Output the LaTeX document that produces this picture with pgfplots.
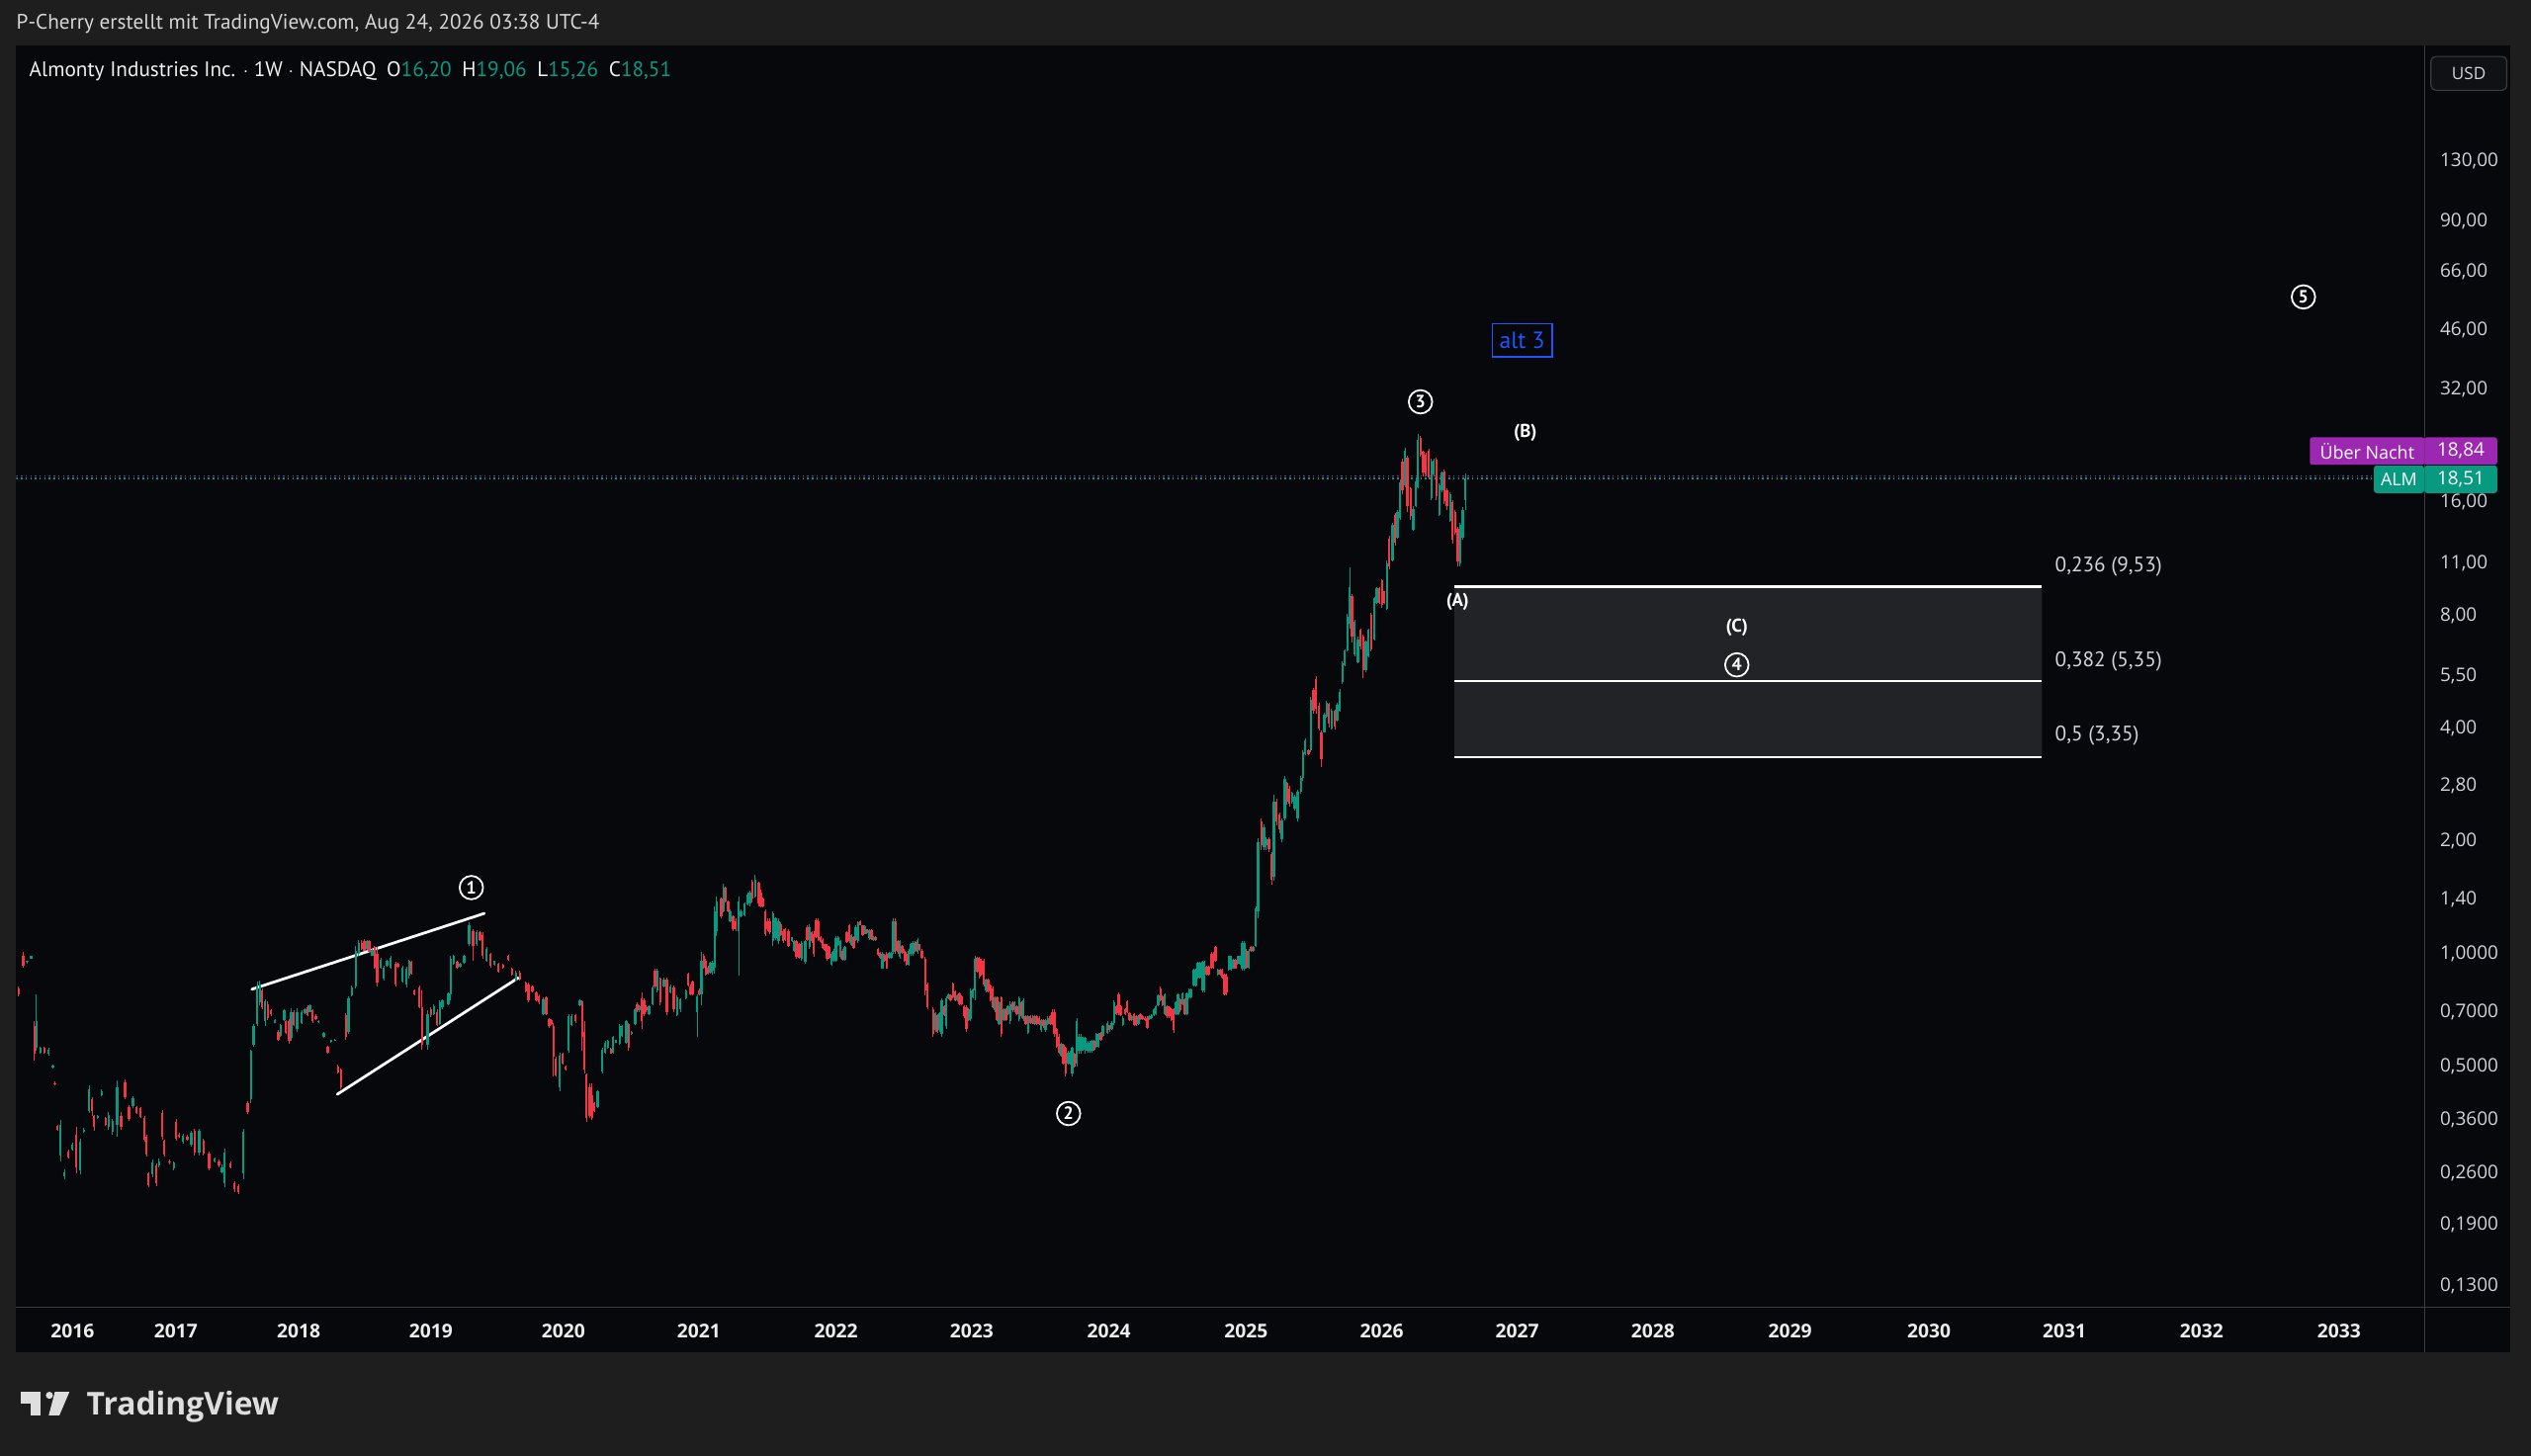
\documentclass[border=0pt]{standalone}
\usepackage{pgfplots}
\usepackage{pgfplotstable}
\pgfplotsset{compat=1.18}
\usepackage{fontspec}
\setmainfont{PT Sans}
\newfontfamily\osans{Open Sans}
\definecolor{frame}{HTML}{1E1E1E}
\definecolor{panel}{HTML}{07080C}
\definecolor{sep}{HTML}{3C3C40}
\definecolor{tvgreen}{HTML}{089981}
\definecolor{tvred}{HTML}{F23645}
\definecolor{tvpurple}{HTML}{9C27B0}
\definecolor{tvblue}{HTML}{2154FF}
\definecolor{fibgray}{HTML}{222327}
\definecolor{lbl}{HTML}{D1D4DC}
\definecolor{usdbox}{HTML}{101115}
\newcommand\yl[1]{\mbox{\osans #1}}
\newcommand\xl[1]{\mbox{\osans\bfseries #1}}

\pgfplotstableread{
x o h l c
11.6 0.81 0.82 0.77 0.78
14.5 0.99 1.01 0.92 0.93
16.8 0.95 0.96 0.94 0.955
19.4 0.97 0.99 0.97 0.985
21.3 0.64 0.66 0.52 0.54
22.5 0.56 0.78 0.55 0.66
25 0.545 0.565 0.54 0.56
27.5 0.56 0.565 0.54 0.545
30 0.54 0.56 0.535 0.555
32.7 0.497 0.505 0.495 0.503
33.9 0.452 0.456 0.445 0.448
35.6 0.347 0.35 0.338 0.34
37.5 0.29 0.36 0.28 0.35
40 0.255 0.266 0.25 0.262
42.4 0.297 0.30 0.284 0.287
44.8 0.30 0.313 0.298 0.31
47.2 0.33 0.345 0.26 0.27
49.6 0.265 0.322 0.258 0.315
52 0.335 0.343 0.333 0.34
55.2 0.38 0.445 0.375 0.435
57 0.41 0.415 0.37 0.38
58.3 0.37 0.372 0.338 0.345
60.5 0.365 0.372 0.363 0.37
63 0.42 0.434 0.418 0.43
65.4 0.365 0.368 0.348 0.35
67.3 0.345 0.378 0.34 0.372
69.7 0.335 0.362 0.33 0.358
72.6 0.35 0.46 0.325 0.44
75 0.37 0.378 0.34 0.345
77.5 0.455 0.462 0.41 0.415
80 0.39 0.395 0.358 0.362
82.3 0.392 0.418 0.388 0.412
84.7 0.39 0.392 0.373 0.377
87 0.388 0.39 0.365 0.368
89.6 0.365 0.37 0.315 0.32
90.8 0.325 0.33 0.288 0.292
92 0.26 0.262 0.238 0.242
94.4 0.258 0.282 0.254 0.278
96.9 0.272 0.276 0.24 0.245
98.5 0.272 0.284 0.27 0.28
100.5 0.375 0.382 0.32 0.325
101.7 0.318 0.32 0.288 0.292
105 0.28 0.283 0.275 0.278
107.7 0.268 0.28 0.265 0.277
109 0.355 0.362 0.318 0.322
111 0.33 0.333 0.323 0.326
113.5 0.316 0.332 0.312 0.328
116 0.326 0.33 0.318 0.32
118.6 0.31 0.338 0.306 0.334
120.5 0.338 0.342 0.29 0.295
123.5 0.295 0.342 0.29 0.338
126 0.318 0.322 0.29 0.293
129.5 0.294 0.297 0.264 0.268
133 0.28 0.287 0.278 0.285
135.6 0.28 0.282 0.27 0.272
137.5 0.262 0.274 0.259 0.27
139.2 0.245 0.303 0.238 0.295
142.9 0.276 0.28 0.268 0.27
145.3 0.245 0.248 0.232 0.235
147.8 0.24 0.243 0.228 0.232
150.8 0.26 0.342 0.25 0.335
153.5 0.40 0.405 0.374 0.378
155.5 0.41 0.555 0.40 0.55
157 0.57 0.65 0.565 0.64
159.3 0.65 0.845 0.64 0.82
161 0.74 0.85 0.73 0.83
162.5 0.80 0.81 0.71 0.72
164.2 0.66 0.755 0.64 0.745
165.9 0.735 0.745 0.665 0.675
168 0.705 0.71 0.68 0.69
170.3 0.655 0.668 0.652 0.665
172.4 0.62 0.625 0.585 0.59
173.8 0.605 0.65 0.60 0.645
176 0.665 0.712 0.66 0.705
177.2 0.66 0.665 0.61 0.615
179.2 0.66 0.67 0.575 0.585
180.4 0.595 0.715 0.585 0.70
182 0.70 0.705 0.64 0.645
184 0.63 0.715 0.62 0.70
187 0.655 0.705 0.65 0.70
189 0.695 0.715 0.69 0.71
190.5 0.72 0.728 0.68 0.685
192 0.70 0.735 0.698 0.73
193.7 0.705 0.71 0.655 0.66
195.8 0.68 0.69 0.665 0.67
197.3 0.658 0.665 0.655 0.662
200.5 0.60 0.62 0.598 0.615
203 0.565 0.568 0.54 0.545
205 0.583 0.59 0.58 0.588
207.5 0.586 0.592 0.584 0.59
209.4 0.50 0.505 0.478 0.482
211.2 0.49 0.495 0.435 0.44
214.3 0.685 0.695 0.59 0.60
215.8 0.62 0.77 0.61 0.76
218 0.775 0.825 0.77 0.815
220.4 0.82 1.05 0.81 1.02
222.2 1.0 1.085 0.985 1.07
224 1.07 1.085 1.025 1.03
225.7 1.08 1.095 1.015 1.02
227.6 1.03 1.085 1.025 1.08
228.8 1.08 1.09 1.005 1.01
230.5 0.99 1.03 0.985 1.025
232 1.04 1.05 0.91 0.92
233.7 1.0 1.04 0.82 0.84
236 0.92 0.975 0.91 0.965
237.8 0.86 0.93 0.85 0.92
239.7 0.93 0.965 0.925 0.96
242 0.92 0.985 0.915 0.975
245 0.94 0.95 0.82 0.83
246.5 0.94 0.945 0.92 0.925
249.4 0.845 0.93 0.84 0.92
251.8 0.83 0.925 0.815 0.915
253.5 0.875 0.965 0.86 0.955
254.8 0.95 0.955 0.88 0.885
256.7 0.80 0.805 0.775 0.78
259.8 0.815 0.825 0.715 0.72
261.5 0.72 0.80 0.555 0.57
265 0.57 0.705 0.555 0.69
267 0.71 0.718 0.678 0.685
268.8 0.69 0.735 0.685 0.725
270.7 0.70 0.71 0.64 0.645
272.4 0.65 0.75 0.645 0.74
274 0.72 0.755 0.71 0.75
277.7 0.735 0.79 0.73 0.785
279.2 0.78 0.985 0.75 0.97
281 0.94 0.995 0.935 0.99
283.3 0.95 0.955 0.915 0.92
285.2 0.925 0.945 0.92 0.94
287.6 0.945 0.995 0.94 0.99
290.6 1.06 1.21 1.05 1.19
293 1.15 1.165 0.96 1.05
295.4 1.06 1.155 1.05 1.14
297.3 1.14 1.15 1.08 1.09
299 1.12 1.14 0.97 0.99
301.5 0.96 1.045 0.95 1.03
303.9 1.0 1.005 0.92 0.93
306.3 0.935 0.96 0.93 0.955
308.7 0.94 0.945 0.89 0.895
311.7 0.935 0.94 0.915 0.918
314.8 0.99 0.995 0.96 0.965
317.2 0.91 0.92 0.875 0.88
319.6 0.85 0.90 0.845 0.89
322 0.89 0.90 0.85 0.855
325.7 0.84 0.845 0.79 0.795
327.4 0.83 0.84 0.74 0.75
329.8 0.82 0.825 0.79 0.795
332.2 0.79 0.795 0.745 0.75
334 0.77 0.778 0.735 0.74
336.6 0.69 0.765 0.685 0.755
338.5 0.765 0.772 0.686 0.69
340.2 0.67 0.675 0.634 0.64
341.5 0.665 0.67 0.645 0.65
342.9 0.64 0.655 0.47 0.53
344.4 0.525 0.53 0.47 0.475
346.7 0.44 0.545 0.43 0.535
348.6 0.54 0.545 0.505 0.51
350.4 0.50 0.502 0.488 0.49
352.3 0.55 0.69 0.545 0.68
354 0.645 0.69 0.64 0.68
356.5 0.685 0.69 0.655 0.66
359.3 0.73 0.755 0.725 0.75
360.7 0.745 0.75 0.55 0.60
362 0.62 0.66 0.48 0.49
363.4 0.477 0.48 0.355 0.365
365.3 0.44 0.45 0.365 0.37
366.7 0.42 0.45 0.36 0.365
368.3 0.40 0.402 0.378 0.38
370.2 0.39 0.433 0.388 0.43
373 0.485 0.562 0.478 0.555
374.9 0.545 0.585 0.54 0.58
376.5 0.56 0.588 0.558 0.585
378.4 0.558 0.56 0.54 0.542
379.8 0.545 0.605 0.54 0.60
381.7 0.58 0.59 0.578 0.588
383.9 0.575 0.65 0.57 0.64
385.3 0.605 0.645 0.60 0.64
388 0.58 0.667 0.574 0.66
389.4 0.65 0.655 0.55 0.56
391.3 0.61 0.622 0.607 0.62
393.5 0.65 0.715 0.645 0.71
394.8 0.735 0.74 0.70 0.705
396.2 0.705 0.73 0.70 0.725
397.6 0.76 0.79 0.63 0.66
399 0.75 0.76 0.68 0.69
400.3 0.72 0.73 0.70 0.705
402 0.69 0.73 0.685 0.725
404.4 0.735 0.825 0.73 0.815
405.8 0.90 0.915 0.81 0.82
407.2 0.80 0.91 0.79 0.90
409 0.86 0.865 0.73 0.74
411.3 0.82 0.862 0.815 0.855
413.2 0.855 0.865 0.685 0.70
415.3 0.79 0.828 0.785 0.82
417.5 0.815 0.822 0.70 0.71
419.5 0.685 0.775 0.68 0.765
421.4 0.71 0.762 0.70 0.755
424.9 0.76 0.805 0.755 0.80
426.3 0.885 0.893 0.82 0.825
427.7 0.82 0.83 0.775 0.78
429 0.845 0.85 0.775 0.78
431.8 0.70 0.78 0.60 0.77
433.1 0.80 0.81 0.775 0.78
434.5 0.78 1.01 0.73 0.96
435.9 0.99 1.0 0.91 0.92
437.2 0.96 0.97 0.875 0.88
438.6 0.92 0.93 0.88 0.885
440 0.89 0.95 0.885 0.945
441.3 0.90 0.955 0.88 0.945
442.7 0.92 1.34 0.885 1.30
444 1.15 1.42 1.116 1.38
446.8 1.40 1.41 1.24 1.26
448.2 1.30 1.54 1.29 1.50
449.5 1.50 1.51 1.37 1.38
451 1.38 1.385 1.29 1.30
452.3 1.22 1.315 1.21 1.30
454.2 1.26 1.27 1.15 1.16
455.8 1.22 1.24 1.15 1.16
457.7 1.15 1.42 0.875 1.38
459.1 1.26 1.31 1.25 1.30
461.3 1.27 1.37 1.26 1.36
463.2 1.35 1.455 1.345 1.44
464.6 1.36 1.47 1.34 1.46
466 1.56 1.58 1.37 1.40
467.9 1.42 1.62 1.41 1.58
470 1.55 1.56 1.34 1.36
471.4 1.46 1.48 1.33 1.34
472.8 1.40 1.41 1.33 1.34
474.2 1.30 1.31 1.116 1.13
475.5 1.22 1.24 1.15 1.16
476.9 1.22 1.24 1.13 1.14
478.8 1.08 1.30 1.05 1.28
480.4 1.10 1.25 1.09 1.24
482.4 1.08 1.24 1.06 1.22
483.7 1.20 1.21 1.116 1.12
485.1 1.15 1.16 1.07 1.08
486.5 1.16 1.17 1.08 1.09
488.4 1.15 1.16 1.04 1.05
490.6 1.08 1.11 1.075 1.105
492 1.02 1.09 1.01 1.08
493.3 1.08 1.09 0.97 0.98
495.2 1.06 1.07 0.97 0.975
496.6 0.97 1.08 0.96 1.07
498.8 0.95 1.09 0.94 1.08
500.1 1.18 1.19 1.08 1.09
501.5 1.04 1.2 1.03 1.18
502.9 1.14 1.15 1.07 1.08
504.2 1.13 1.15 0.98 1.0
505.6 1.23 1.24 1.10 1.11
507 1.22 1.24 1.08 1.09
508.4 1.11 1.116 1.07 1.075
509.7 1.09 1.10 1.03 1.035
511.1 1.06 1.062 1.02 1.025
512.4 1.05 1.06 0.96 0.97
513.8 1.04 1.05 0.97 0.975
515.2 0.935 1.01 0.93 1.0
516.5 0.955 1.03 0.95 1.02
517.9 0.96 1.116 0.95 1.10
519.3 1.055 1.116 1.05 1.11
520.6 0.98 1.09 0.97 1.08
522 1.02 1.03 0.96 0.965
523.4 0.965 1.05 0.96 1.04
524.7 1.14 1.15 1.07 1.075
526.1 1.19 1.2 1.07 1.08
527.5 1.055 1.13 1.05 1.12
528.8 1.11 1.116 1.03 1.035
530.2 1.085 1.19 1.08 1.18
531.6 1.08 1.22 1.07 1.21
532.9 1.22 1.225 1.19 1.195
534.3 1.19 1.195 1.116 1.12
535.7 1.13 1.19 1.125 1.185
537 1.16 1.165 1.13 1.135
538.4 1.10 1.16 1.09 1.155
539.8 1.155 1.16 1.09 1.095
541.1 1.085 1.116 1.08 1.11
542.5 1.11 1.116 1.08 1.085
543.9 1.03 1.035 0.99 0.995
545.2 1.005 1.01 0.97 0.975
546.6 0.915 1.01 0.91 1.0
548 0.995 1.0 0.95 0.955
549.3 1.0 1.01 0.91 0.915
550.7 0.975 1.01 0.97 1.005
552.1 0.975 1.01 0.97 1.005
553.4 1.01 1.24 1.0 1.22
554.8 1.22 1.24 1.0 1.02
556.2 1.08 1.09 1.0 1.01
557.5 0.98 1.09 0.97 1.08
558.9 1.05 1.055 1.0 1.005
560.3 1.02 1.03 0.95 0.955
561.6 1.0 1.01 0.93 0.935
563 0.935 1.03 0.93 1.02
564.4 1.0 1.07 0.99 1.06
565.7 1.0 1.08 0.99 1.07
567.1 1.075 1.08 1.01 1.015
568.5 1.01 1.10 1.0 1.09
569.8 1.06 1.065 1.02 1.025
571.2 1.02 1.03 0.97 0.975
573.1 0.97 0.98 0.776 0.80
574.5 0.83 0.84 0.71 0.72
578 0.71 0.72 0.60 0.61
579.4 0.625 0.70 0.62 0.695
580.8 0.685 0.69 0.615 0.62
582.1 0.625 0.70 0.62 0.695
583.5 0.61 0.76 0.60 0.75
584.9 0.725 0.73 0.68 0.685
586.3 0.64 0.77 0.63 0.76
587.6 0.762 0.785 0.758 0.78
589 0.775 0.78 0.745 0.75
590.4 0.835 0.84 0.76 0.765
591.7 0.795 0.80 0.745 0.75
593.1 0.75 0.78 0.745 0.775
594.5 0.785 0.79 0.73 0.735
595.8 0.77 0.775 0.73 0.735
597.2 0.725 0.73 0.673 0.68
598.6 0.72 0.73 0.62 0.63
599.9 0.665 0.715 0.66 0.71
601.3 0.67 0.81 0.66 0.80
602.7 0.765 0.81 0.76 0.805
604 0.80 0.99 0.75 0.97
605.4 0.975 0.98 0.89 0.895
606.8 0.97 0.98 0.86 0.87
608.1 0.96 0.97 0.875 0.88
609.5 0.96 0.97 0.82 0.83
610.9 0.80 0.86 0.79 0.855
612.2 0.855 0.86 0.79 0.795
613.6 0.825 0.83 0.745 0.75
615 0.81 0.82 0.715 0.72
616.3 0.705 0.77 0.70 0.765
617.7 0.765 0.77 0.66 0.665
619 0.65 0.745 0.645 0.74
620.4 0.765 0.77 0.60 0.61
621.8 0.665 0.715 0.66 0.71
623.2 0.71 0.715 0.66 0.665
624.5 0.69 0.73 0.685 0.725
625.9 0.66 0.745 0.65 0.735
627.3 0.74 0.745 0.70 0.705
628.6 0.705 0.745 0.70 0.74
630 0.725 0.73 0.687 0.69
631.4 0.67 0.77 0.66 0.76
632.7 0.74 0.745 0.673 0.68
634.1 0.67 0.76 0.66 0.75
635.5 0.68 0.686 0.647 0.65
636.9 0.615 0.687 0.61 0.68
638.2 0.68 0.686 0.65 0.655
639.6 0.675 0.686 0.65 0.655
641 0.65 0.686 0.645 0.68
642.3 0.68 0.686 0.645 0.65
643.7 0.675 0.68 0.647 0.65
645.1 0.625 0.67 0.62 0.665
646.4 0.665 0.67 0.634 0.64
647.8 0.625 0.67 0.62 0.665
649.2 0.65 0.68 0.645 0.675
650.5 0.68 0.686 0.645 0.65
651.9 0.70 0.71 0.647 0.65
653.3 0.70 0.71 0.60 0.61
654.6 0.63 0.634 0.56 0.565
656 0.60 0.61 0.54 0.545
657.4 0.535 0.58 0.53 0.575
658.7 0.57 0.575 0.507 0.51
660.1 0.56 0.566 0.472 0.48
661.5 0.51 0.55 0.505 0.545
662.8 0.51 0.55 0.505 0.545
664.2 0.48 0.566 0.47 0.56
665.6 0.54 0.545 0.497 0.50
667 0.51 0.673 0.50 0.66
668.3 0.55 0.61 0.54 0.60
669.7 0.55 0.61 0.54 0.60
671.1 0.555 0.60 0.55 0.595
672.4 0.55 0.60 0.54 0.595
673.8 0.55 0.585 0.545 0.58
675.1 0.55 0.585 0.545 0.58
676.5 0.55 0.59 0.545 0.585
677.9 0.585 0.59 0.55 0.555
679.2 0.565 0.615 0.56 0.61
680.6 0.565 0.615 0.56 0.61
682 0.615 0.62 0.585 0.59
683.3 0.605 0.647 0.60 0.64
686.1 0.615 0.66 0.61 0.655
687.4 0.645 0.647 0.62 0.625
688.8 0.63 0.66 0.625 0.655
690.2 0.655 0.75 0.647 0.74
691.6 0.725 0.73 0.687 0.69
693 0.78 0.79 0.687 0.695
694.3 0.725 0.73 0.68 0.685
695.7 0.645 0.68 0.64 0.675
697 0.71 0.715 0.687 0.69
698.4 0.745 0.75 0.695 0.70
699.8 0.695 0.70 0.66 0.665
701.1 0.665 0.686 0.66 0.68
702.5 0.69 0.695 0.64 0.645
703.8 0.68 0.686 0.64 0.645
705.2 0.65 0.686 0.645 0.68
706.6 0.69 0.695 0.665 0.67
708 0.68 0.686 0.665 0.67
709.3 0.675 0.68 0.66 0.665
710.7 0.675 0.68 0.63 0.635
712 0.67 0.686 0.665 0.683
713.4 0.675 0.69 0.67 0.685
714.8 0.685 0.715 0.68 0.71
716.1 0.69 0.73 0.685 0.725
717.5 0.73 0.78 0.725 0.775
718.9 0.81 0.82 0.745 0.75
720.2 0.77 0.776 0.725 0.73
721.6 0.69 0.785 0.687 0.78
723 0.725 0.73 0.673 0.68
724.4 0.72 0.725 0.673 0.68
725.7 0.71 0.715 0.66 0.665
727.1 0.71 0.715 0.615 0.625
728.5 0.69 0.745 0.687 0.74
729.8 0.69 0.785 0.687 0.78
731.2 0.755 0.76 0.70 0.705
732.6 0.735 0.79 0.73 0.785
733.9 0.755 0.76 0.687 0.69
735.3 0.69 0.79 0.687 0.785
736.7 0.765 0.81 0.76 0.805
738 0.765 0.81 0.76 0.805
739.4 0.825 0.91 0.82 0.905
740.8 0.825 0.91 0.82 0.905
742.1 0.865 0.95 0.86 0.945
743.5 0.865 0.95 0.86 0.945
744.9 0.80 0.96 0.79 0.95
746.2 0.80 0.96 0.79 0.95
747.6 0.925 0.93 0.875 0.88
749 0.925 0.93 0.875 0.88
750.3 1.0 1.01 0.91 0.92
751.7 1.0 1.01 0.91 0.92
753 1.04 1.05 0.95 0.96
754.4 0.88 0.91 0.875 0.905
755.8 0.905 0.91 0.875 0.88
757.2 0.905 0.91 0.86 0.865
758.5 0.88 0.885 0.776 0.78
759.9 0.87 0.885 0.776 0.79
761.2 0.905 0.99 0.90 0.985
762.6 0.905 0.99 0.90 0.985
764 0.915 0.97 0.91 0.965
765.4 0.965 0.97 0.91 0.915
766.7 0.94 0.99 0.935 0.985
768.1 0.94 0.99 0.935 0.985
769.5 0.91 1.08 0.90 1.07
770.8 0.91 1.08 0.90 1.07
772.2 1.02 1.03 0.91 0.92
773.6 0.92 1.03 0.91 1.02
775 1.045 1.05 1.01 1.015
776.3 1.015 1.05 1.01 1.045
777.9 1.05 1.34 1.04 1.32
779.3 1.3 2.03 1.24 1.98
781.4 2.25 2.30 1.89 1.95
783 1.92 2.22 1.89 2.18
784.4 1.95 2.05 1.89 2.02
786.1 2.02 2.05 1.87 1.90
787.7 1.85 1.87 1.53 1.58
789.1 1.6 2.65 1.57 2.55
790.8 2.55 2.59 2.20 2.25
792.6 2.35 2.38 2.10 2.15
794.2 2.02 2.30 1.98 2.27
795.9 2.3 2.98 2.27 2.92
797.3 2.85 2.87 2.50 2.55
798.7 2.75 2.8 2.47 2.52
800.4 2.54 2.71 2.52 2.69
802 2.44 2.65 2.41 2.62
804 2.3 2.74 2.25 2.70
805.9 2.7 2.98 2.68 2.95
807.1 2.95 3.5 2.9 3.45
808.5 3.4 3.75 3.38 3.7
810.6 3.5 3.52 3.38 3.4
812 3.5 4.85 3.45 4.75
813.6 5.05 5.13 4.37 4.45
815.3 5.4 5.5 4.37 4.5
817.1 4.6 4.67 3.93 4.0
818.7 3.9 3.93 3.15 3.3
820.4 3.9 4.4 3.89 4.35
821.8 4.3 4.72 4.27 4.68
823.2 4.65 4.67 4.02 4.1
824.9 4.0 4.5 3.97 4.45
826.9 4.45 4.47 3.97 4.05
828.5 4.18 4.67 4.16 4.62
830 4.45 5.08 4.41 5.0
831.6 5.3 6.04 5.25 5.95
833 5.9 6.5 5.84 6.45
834.7 6.45 8.06 6.4 7.9
836.1 7.6 10.7 7.35 9.5
837.5 9.0 9.1 6.77 7.0
839.2 6.3 7.8 6.2 7.7
841.2 6.0 7.0 5.95 6.9
842.8 7.3 7.35 6.5 6.6
844.5 7.0 7.1 5.44 5.7
846.1 5.7 6.85 5.63 6.8
847.7 6.2 7.35 6.18 7.3
849.4 8.0 8.1 6.4 6.5
851.4 6.9 8.97 6.85 8.9
853 8.6 9.5 8.55 9.45
854.5 9.45 9.5 8.55 8.6
856.1 9.9 9.96 8.35 8.5
857.5 9.25 9.3 8.55 8.6
859.2 8.3 11.2 8.25 11.0
860.6 12.8 13.0 10.6 10.8
862.6 11.2 14.1 11.1 13.9
864.3 14.8 15.0 12.3 12.5
865.7 12.9 15.3 12.8 15.1
867.3 14.5 18.4 14.4 18.1
868.8 20.6 20.9 16.8 17.2
870.4 17.8 22.4 17.6 22.0
871.8 21.0 21.3 15.1 15.6
873.9 17.4 17.6 14.4 14.7
875.5 13.5 15.6 13.4 15.4
877.1 15.6 18.4 15.5 18.2
878.5 17.6 24.3 17.4 23.5
880 23.8 24.1 21.2 21.5
881.6 21.8 22.0 18.8 19.2
883.3 21.5 21.7 18.8 19.0
885.1 22.0 22.2 18.4 18.7
886.7 16.4 20.9 16.2 20.6
888.2 19.0 20.9 18.8 20.7
889.8 20.8 21.1 16.2 16.6
891.6 14.8 18.0 14.7 17.8
893.3 17.2 19.4 17.0 19.2
894.7 19.4 19.6 15.8 16.1
896.3 17.2 17.4 15.3 15.6
898.4 14.3 17.0 14.2 16.8
899.8 16.0 16.2 12.4 12.7
901.4 15.1 15.3 13.1 13.3
903.1 13.6 13.8 10.8 11.1
904.5 11.0 14.1 10.8 13.9
906.1 12.9 15.5 12.7 15.3
907.7 16.20 19.06 15.26 18.51
}\candles

\begin{document}
\begin{tikzpicture}
\begin{scope}[x=1pt,y=1pt]
\useasboundingbox (0,0) rectangle (1568,902);
\fill[frame] (0,0) rectangle (1568,902);
\fill[panel] (10,64) rectangle (1555,874);
\draw[sep, line width=0.9pt] (10,92) -- (1555,92);
\draw[sep, line width=0.9pt] (1502,64) -- (1502,874);
\end{scope}

\begin{axis}[
  at={(10pt,92pt)}, anchor=south west,
  scale only axis, width=1492pt, height=782pt,
  xmin=10, xmax=1502,
  ymode=log, ymin=0.11409, ymax=265.2,
  axis line style={draw=none},
  tick style={draw=none},
  major tick length=0pt, minor tick num=0,
  xtick={45,109,185,267,349,433,518,602,687,772,856,940,1024,1109,1195,1279,1364,1449},
  xticklabels={\xl{2016},\xl{2017},\xl{2018},\xl{2019},\xl{2020},\xl{2021},\xl{2022},\xl{2023},\xl{2024},\xl{2025},\xl{2026},\xl{2027},\xl{2028},\xl{2029},\xl{2030},\xl{2031},\xl{2032},\xl{2033}},
  xticklabel pos=lower,
  xticklabel style={font=\fontsize{11.8}{13}\selectfont, text=white!93!black, anchor=center, yshift=-15pt},
  ytick={0.13,0.19,0.26,0.36,0.5,0.7,1,1.4,2,2.8,4,5.5,8,11,16,32,46,66,90,130},
  yticklabels={\yl{0,1300},\yl{0,1900},\yl{0,2600},\yl{0,3600},\yl{0,5000},\yl{0,7000},\yl{1,0000},\yl{1,40},\yl{2,00},\yl{2,80},\yl{4,00},\yl{5,50},\yl{8,00},\yl{11,00},\yl{16,00},\yl{32,00},\yl{46,00},\yl{66,00},\yl{90,00},\yl{130,00}},
  yticklabel pos=right,
  yticklabel style={font=\fontsize{11.6}{13}\selectfont, text=lbl, anchor=west, xshift=9.5pt, inner sep=0pt},
  /pgf/number format/assume math mode=true,
  clip=true,
]
% Fibonacci retracement zone
\addplot[fill=fibgray, draw=none, forget plot] coordinates {(901,9.53) (1265,9.53) (1265,3.35) (901,3.35) (901,9.53)};
\addplot[white, line width=1.3pt, forget plot] coordinates {(901,9.53) (1265,9.53)};
\addplot[white, line width=1.3pt, forget plot] coordinates {(901,5.35) (1265,5.35)};
\addplot[white, line width=1.3pt, forget plot] coordinates {(901,3.35) (1265,3.35)};
% wedge lines
\addplot[white, line width=1.7pt, line cap=round, forget plot] coordinates {(156,0.804) (300,1.281)};
\addplot[white, line width=1.7pt, line cap=round, forget plot] coordinates {(209,0.422) (321,0.862)};
% last price lines
\addplot[tvpurple, dotted, line width=0.9pt, forget plot] coordinates {(10,18.84) (1502,18.84)};
\addplot[tvgreen, dotted, line width=0.9pt, forget plot] coordinates {(10,18.51) (1502,18.51)};
% wicks
\addplot[draw=none, mark=none, forget plot,
  restrict expr to domain={\thisrow{c}-\thisrow{o}}{0:100000},
  error bars/.cd, y dir=plus, y explicit, error mark=none,
  error bar style={draw=tvgreen, line width=0.55pt, solid}]
  table[x=x, y=l, y error plus expr=\thisrow{h}-\thisrow{l}] {\candles};
\addplot[draw=none, mark=none, forget plot,
  restrict expr to domain={\thisrow{c}-\thisrow{o}}{-100000:-0.0000001},
  error bars/.cd, y dir=plus, y explicit, error mark=none,
  error bar style={draw=tvred, line width=0.55pt, solid}]
  table[x=x, y=l, y error plus expr=\thisrow{h}-\thisrow{l}] {\candles};
% bodies
\addplot[draw=none, mark=none, forget plot,
  restrict expr to domain={\thisrow{c}-\thisrow{o}}{0:100000},
  error bars/.cd, y dir=plus, y explicit, error mark=none,
  error bar style={draw=tvgreen, line width=1.45pt, solid}]
  table[x=x, y=o, y error plus expr=\thisrow{c}-\thisrow{o}] {\candles};
\addplot[draw=none, mark=none, forget plot,
  restrict expr to domain={\thisrow{c}-\thisrow{o}}{-100000:-0.0000001},
  error bars/.cd, y dir=plus, y explicit, error mark=none,
  error bar style={draw=tvred, line width=1.45pt, solid}]
  table[x=x, y=c, y error plus expr=\thisrow{o}-\thisrow{c}] {\candles};
\end{axis}

\begin{scope}[x=1pt,y=1pt]
% header and title
\node[anchor=west, text=white!84!black, font=\fontsize{13}{15}\selectfont, inner sep=0pt] at (10,887) {P-Cherry erstellt mit TradingView.com, Aug 24, 2026 03:38 UTC-4};
\node[anchor=west, text=white!94!black, font=\fontsize{13}{15}\selectfont, inner sep=0pt] at (18,858) {Almonty Industries Inc. $\cdot$ 1W $\cdot$ NASDAQ\enspace O\textcolor{tvgreen}{16,20}\enspace H\textcolor{tvgreen}{19,06}\enspace L\textcolor{tvgreen}{15,26}\enspace C\textcolor{tvgreen}{18,51}};

% wave labels
\tikzset{wave/.style={circle, draw=white, line width=1.1pt, inner sep=0pt, minimum size=14.5pt, text=white, font=\fontsize{11}{11}\selectfont\bfseries}}
\node[wave] at (292,352) {1};
\node[wave] at (662,212) {2};
\node[wave] at (880,653) {3};
\node[wave] at (1076,490) {4};
\node[wave] at (1427,718) {5};
\tikzset{abc/.style={text=white, font=\fontsize{11.5}{12}\selectfont\bfseries, inner sep=0pt}}
\node[abc] at (903,529) {(A)};
\node[abc] at (945,634) {(B)};
\node[abc] at (1076,513) {(C)};
\node[draw=tvblue, line width=0.9pt, text=tvblue, font=\fontsize{14.5}{15}\selectfont, minimum width=37pt, minimum height=20.5pt, inner sep=0pt] at (943,691) {alt 3};
% fib labels
\tikzset{fib/.style={anchor=west, text=lbl, font=\fontsize{13}{14}\selectfont, inner sep=0pt}}
\node[fib] at (1273,551) {0,236 (9,53)};
\node[fib] at (1273,492) {0,382 (5,35)};
\node[fib] at (1273,446) {0,5 (3,35)};

% price axis labels
\node[fill=tvpurple, text=white, font=\osans\fontsize{11}{12}\selectfont, inner sep=0pt, minimum width=71pt, minimum height=17pt, rounded corners=1.5pt] at (1466.5,622.5) {Über Nacht};
\node[fill=tvpurple, text=white, font=\osans\fontsize{11.6}{12}\selectfont, inner sep=0pt, minimum width=45pt, minimum height=17pt, rounded corners=1.5pt] at (1524.5,622.5) {18,84};
\node[fill=tvgreen, text=white, font=\osans\fontsize{11}{12}\selectfont, inner sep=0pt, minimum width=31pt, minimum height=17pt, rounded corners=1.5pt] at (1486.2,605) {ALM};
\node[fill=tvgreen, text=white, font=\osans\fontsize{11.6}{12}\selectfont, inner sep=0pt, minimum width=45pt, minimum height=17pt, rounded corners=1.5pt] at (1524.5,605) {18,51};
\draw[sep, fill=usdbox, rounded corners=3pt, line width=0.7pt] (1506,846) rectangle (1553,867);
\node[text=lbl, font=\osans\fontsize{10.5}{11}\selectfont, inner sep=0pt] at (1529.5,856.5) {USD};

% TradingView logo
\fill[white!87!black] (12.7,32.3) rectangle (25,39.5);
\fill[white!87!black] (19,25) rectangle (25,39.5);
\fill[white!87!black] (30.6,37.4) circle (2.2);
\fill[white!87!black] (34,39.5) -- (43,39.5) -- (36.8,25) -- (30.2,25) -- cycle;
\node[anchor=base west, text=white!87!black, font=\osans\bfseries\fontsize{19.5}{21}\selectfont, inner sep=0pt] at (53.5,25) {TradingView};
\end{scope}
\end{tikzpicture}
\end{document}
